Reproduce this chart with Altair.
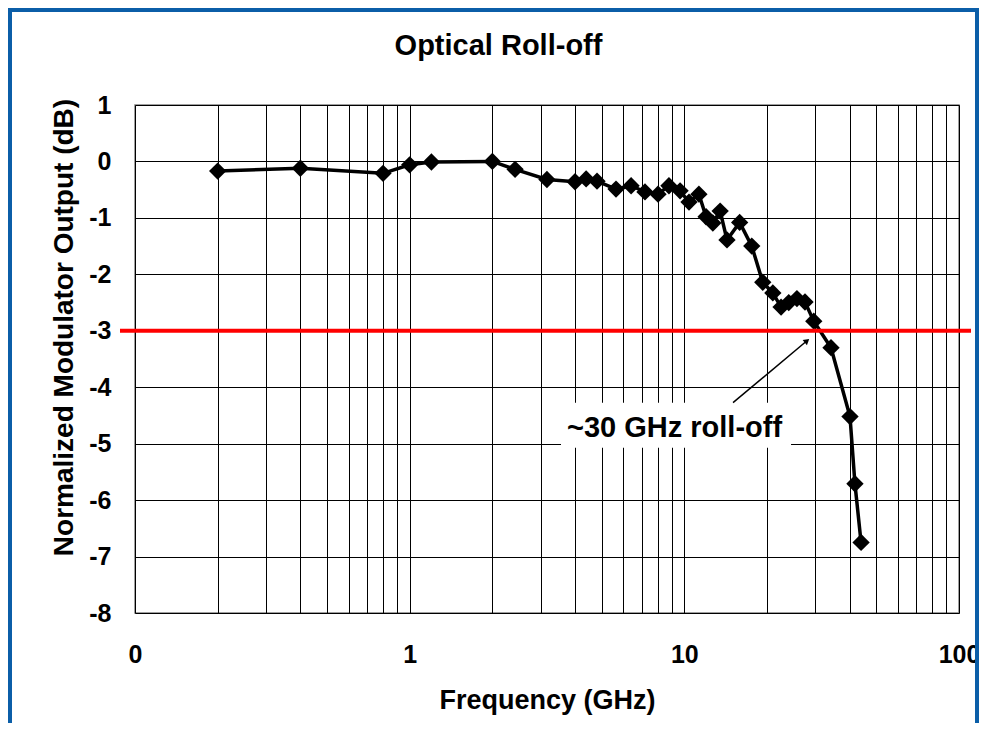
import altair as alt
import pandas as pd

# ---------------- data ----------------
freq_ghz = [0.2, 0.4, 0.8, 1.0, 1.2, 2.0, 2.42, 3.16, 4.0, 4.39, 4.81, 5.64, 6.4,
            7.19, 8.02, 8.79, 9.65, 10.4, 11.3, 12.0, 12.7, 13.5, 14.3, 15.9, 17.6,
            19.3, 21.0, 22.5, 24.0, 25.7, 27.5, 29.6, 34.2, 40.1, 41.8, 44.0]
response_db = [-0.17, -0.12, -0.21, -0.06, -0.01, 0.0, -0.14, -0.32, -0.36, -0.31,
               -0.35, -0.49, -0.43, -0.54, -0.58, -0.43, -0.52, -0.72, -0.58, -0.98,
               -1.09, -0.88, -1.39, -1.08, -1.50, -2.14, -2.33, -2.58, -2.50, -2.43,
               -2.49, -2.83, -3.30, -4.52, -5.71, -6.75]

threshold_db = [-3]

chart_title = "Optical Roll-off"
x_title = "Frequency (GHz)"
y_title = "Normalized Modulator Output (dB)"

y_ticks = list(range(-8, 2))
x_label_values = [0.1, 1, 10, 100]
x_label_texts = ["0", "1", "10", "100"]
x_grid_values = [round(m * 10.0 ** e, 6) for e in (-1, 0, 1) for m in range(1, 10)] + [100]

annot_text = ["~30 GHz roll-off"]
annot_text_x = [9.21]
annot_text_y = [-4.876]
annot_box_x = [3.556, 24.46]
annot_box_y = [-4.274, -5.071]
arrow_from = [15.04, -4.274]
arrow_to = [27.96, -3.177]

# ---------------- tables ----------------
df = pd.DataFrame({"freq": freq_ghz, "db": response_db, "i": range(len(freq_ghz))})
thr_df = pd.DataFrame({"level": threshold_db})
txt_df = pd.DataFrame({"x": annot_text_x, "y": annot_text_y, "t": annot_text})
box_df = pd.DataFrame({"x0": [annot_box_x[0]], "x1": [annot_box_x[1]],
                       "y0": [annot_box_y[0]], "y1": [annot_box_y[1]]})
arrow_df = pd.DataFrame({"x0": [arrow_from[0]], "y0": [arrow_from[1]],
                         "x1": [arrow_to[0]], "y1": [arrow_to[1]]})
head_df = pd.DataFrame({"x": [arrow_to[0]], "y": [arrow_to[1]]})
title_df = pd.DataFrame({"t": [chart_title]})
dummy = pd.DataFrame({"a": [0]})

FONT = "Liberation Sans"
BLUE = "#0b5ea8"

label_expr = " : ".join(
    f"abs(datum.value - {v}) < 1e-9 ? '{t}'" for v, t in zip(x_label_values, x_label_texts)
) + " : ''"

xscale = alt.Scale(type="log", domain=[0.1, 100], nice=False)
yscale = alt.Scale(domain=[-8, 1], nice=False, zero=False)

x_enc = alt.X(
    "freq:Q", scale=xscale,
    axis=alt.Axis(
        values=x_grid_values, labelExpr=label_expr, labelOverlap=False,
        title=x_title, ticks=False, tickSize=0, domain=False,
        grid=True, gridColor="#000000", gridWidth=1,
        labelFontSize=25, labelFont=FONT, labelFontWeight="bold", labelColor="#000000",
        labelPadding=29, labelFlush=False,
        titleFontSize=27, titleFont=FONT, titleFontWeight="bold", titleColor="#000000",
        titleBaseline="alphabetic", titleY=95,
    ),
)
y_enc = alt.Y(
    "db:Q", scale=yscale,
    axis=alt.Axis(
        values=y_ticks, labelExpr="'' + datum.value", title=y_title,
        ticks=False, tickSize=0, domain=False,
        grid=True, gridColor="#000000", gridWidth=1,
        labelFontSize=25, labelFont=FONT, labelFontWeight="bold", labelColor="#000000",
        labelPadding=24, labelBaseline="middle",
        titleFontSize=28, titleFont=FONT, titleFontWeight="bold", titleColor="#000000",
        titleAngle=270, titleBaseline="middle", titleAlign="center",
        titleX=-71, titleY=222,
    ),
)

line = alt.Chart(df).mark_line(color="#000000", strokeWidth=3.5).encode(
    x=x_enc, y=y_enc, order="i:Q")
points = alt.Chart(df).mark_point(shape="diamond", filled=True, size=300,
                                  color="#000000", opacity=1).encode(
    x=alt.X("freq:Q", scale=xscale), y=alt.Y("db:Q", scale=yscale))

red = alt.Chart(thr_df).mark_rule(color="#ff0000", strokeWidth=4).encode(
    y=alt.Y("level:Q", scale=yscale), x=alt.value(-15), x2=alt.value(836))

box = alt.Chart(box_df).mark_rect(color="#ffffff").encode(
    x=alt.X("x0:Q", scale=xscale), x2="x1:Q",
    y=alt.Y("y0:Q", scale=yscale), y2="y1:Q")

arrow = alt.Chart(arrow_df).mark_rule(color="#000000", strokeWidth=1.5).encode(
    x=alt.X("x0:Q", scale=xscale), x2="x1:Q",
    y=alt.Y("y0:Q", scale=yscale), y2="y1:Q")

head = alt.Chart(head_df).mark_point(shape="triangle-up", filled=True, size=45,
                                     angle=50, color="#000000", opacity=1).encode(
    x=alt.X("x:Q", scale=xscale), y=alt.Y("y:Q", scale=yscale))

annot = alt.Chart(txt_df).mark_text(font=FONT, fontSize=29, fontWeight="bold",
                                    color="#000000", align="center",
                                    baseline="alphabetic").encode(
    x=alt.X("x:Q", scale=xscale), y=alt.Y("y:Q", scale=yscale), text="t:N")

title = alt.Chart(title_df).mark_text(font=FONT, fontSize=29, fontWeight="bold",
                                      color="#000000", align="center",
                                      baseline="alphabetic").encode(
    x=alt.value(363.5), y=alt.value(-50), text="t:N")

left_strip = alt.Chart(dummy).mark_rect(color=BLUE).encode(
    x=alt.value(-127), x2=alt.value(-123), y=alt.value(-97), y2=alt.value(618))
right_strip = alt.Chart(dummy).mark_rect(color=BLUE).encode(
    x=alt.value(840), x2=alt.value(844), y=alt.value(-97), y2=alt.value(618))
top_strip = alt.Chart(dummy).mark_rect(color=BLUE).encode(
    x=alt.value(-127), x2=alt.value(844), y=alt.value(-97), y2=alt.value(-93))

chart = alt.layer(
    line, points, red, box, arrow, head, annot, title,
    left_strip, right_strip, top_strip,
).properties(
    width=824, height=508,
    autosize=alt.AutoSizeParams(type="none"),
    padding={"left": 127, "top": 97, "right": 20, "bottom": 110},
    background="#ffffff",
).configure_view(
    stroke="#808080", strokeWidth=1.5,
)

chart.save("out.html", embed_options={"renderer": "svg", "actions": False})
